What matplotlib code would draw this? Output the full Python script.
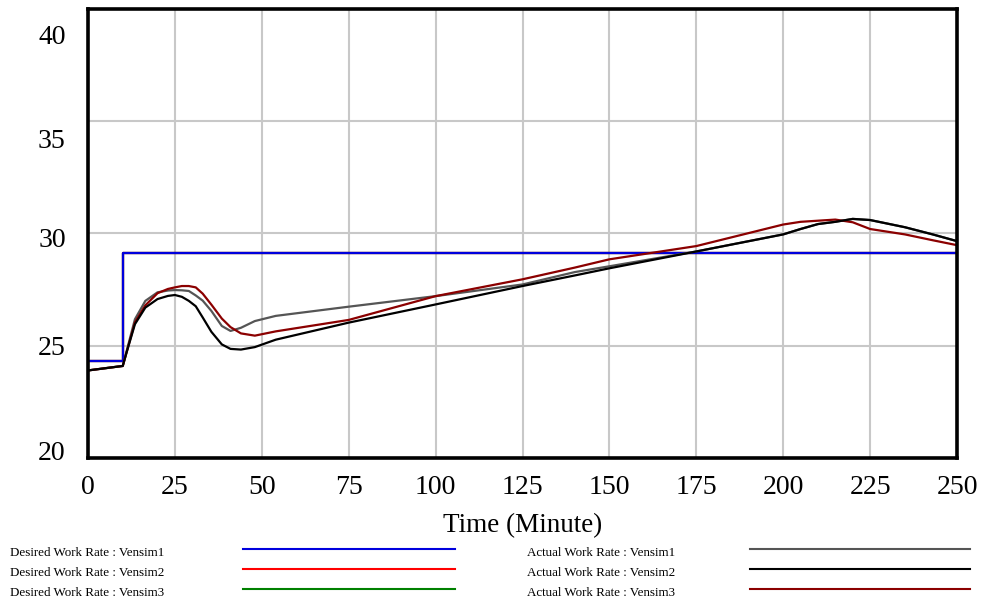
import matplotlib
matplotlib.use("Agg")
import matplotlib.pyplot as plt
import matplotlib.transforms as mtransforms
from matplotlib.lines import Line2D

plt.rcParams['font.family'] = ['Liberation Serif', 'DejaVu Serif']

# time axis (minutes)
time = [0, 5, 10, 11, 13.5, 16.5, 20, 23, 25, 27, 29, 31, 33, 35.5, 38.5, 41,
        44, 48, 54, 75, 100, 125, 140, 150, 175, 200, 205, 210, 215, 220, 225,
        235, 243, 250]

# desired work rate (all three runs identical: step at t=10)
desired_time = [0, 10, 10, 250]
desired_1 = [24.3, 24.3, 29.15, 29.15]
desired_2 = [24.3, 24.3, 29.15, 29.15]
desired_3 = [24.3, 24.3, 29.15, 29.15]

# actual work rate
actual_1 = [23.9, 24.0, 24.1, 24.7, 26.18, 27.0, 27.38, 27.46, 27.48, 27.47,
            27.44, 27.24, 27.01, 26.55, 25.88, 25.66, 25.8, 26.1, 26.33,
            26.74, 27.21, 27.73, 28.28, 28.54, 29.2, 29.96,
            30.2, 30.42, 30.52, 30.65, 30.6, 30.28, 29.96, 29.66]
actual_2 = [23.9, 24.0, 24.1, 24.65, 25.96, 26.7, 27.08, 27.22, 27.26, 27.18,
            27.0, 26.76, 26.26, 25.62, 25.06, 24.86, 24.83, 24.94, 25.27,
            26.03, 26.84, 27.66, 28.13, 28.45, 29.2, 29.96,
            30.2, 30.42, 30.52, 30.65, 30.6, 30.28, 29.96, 29.66]
actual_3 = [23.9, 24.0, 24.1, 24.65, 26.04, 26.8, 27.34, 27.53, 27.6, 27.66,
            27.66, 27.6, 27.32, 26.83, 26.21, 25.83, 25.55, 25.45, 25.64,
            26.15, 27.21, 27.96, 28.48, 28.85, 29.44, 30.4,
            30.52, 30.57, 30.62, 30.5, 30.2, 29.96, 29.7, 29.48]

x_ticks = [0, 25, 50, 75, 100, 125, 150, 175, 200, 225, 250]
y_ticks = [20, 25, 30, 35, 40]

W, H = 985, 609
fig = plt.figure(figsize=(W / 100, H / 100), dpi=100)
ax = fig.add_axes([88 / W, 1 - 458 / H, (957 - 88) / W, (458 - 9) / H])

lw = 1.6
ax.plot(desired_time, desired_3, color='#008000', lw=lw)
ax.plot(desired_time, desired_2, color='#ff0000', lw=lw)
ax.plot(desired_time, desired_1, color='#0000dd', lw=lw)
ax.plot(time, actual_1, color='#555555', lw=lw)
ax.plot(time, actual_3, color='#8b0000', lw=lw)
ax.plot(time, actual_2, color='#000000', lw=lw)

ax.set_xlim(0, 250)
ax.set_ylim(20, 40)
ax.set_xticks(x_ticks)
ax.set_yticks(y_ticks)
ax.tick_params(axis='both', length=0, labelsize=20)
ax.tick_params(axis='x', pad=12)
ax.tick_params(axis='y', pad=16)
ax.grid(True, color='#c8c8c8', lw=1.5)
ax.set_axisbelow(True)
for s in ax.spines.values():
    s.set_linewidth(2.6)

# Vensim spreads the y labels a bit inside the frame
shifts_px = [7, 0, -4, -17, -26]
for lab, dy in zip(ax.get_yticklabels(), shifts_px):
    off = mtransforms.ScaledTranslation(0, dy / 100, fig.dpi_scale_trans)
    lab.set_transform(lab.get_transform() + off)

ax.set_xlabel('Time (Minute)', fontsize=19.5, labelpad=10)

# legend, Vensim style: label then sample line
entries = [
    ('Desired Work Rate : Vensim1', '#0000dd', 0),
    ('Desired Work Rate : Vensim2', '#ff0000', 0),
    ('Desired Work Rate : Vensim3', '#008000', 0),
    ('Actual Work Rate : Vensim1', '#555555', 1),
    ('Actual Work Rate : Vensim2', '#000000', 1),
    ('Actual Work Rate : Vensim3', '#8b0000', 1),
]
cols = [(10, 243, 455), (527, 750, 970)]
row_y = [553, 573, 593]
count = [0, 0]
for label, color, c in entries:
    r = count[c]
    count[c] += 1
    tx, lx0, lx1 = cols[c]
    y = row_y[r]
    fig.text(tx / W, 1 - y / H, label, fontsize=9.4, va='center', ha='left')
    fig.add_artist(Line2D([lx0 / W, lx1 / W], [1 - (y - 4) / H, 1 - (y - 4) / H],
                          color=color, lw=1.5, transform=fig.transFigure))

fig.savefig('out.png', dpi=100)
